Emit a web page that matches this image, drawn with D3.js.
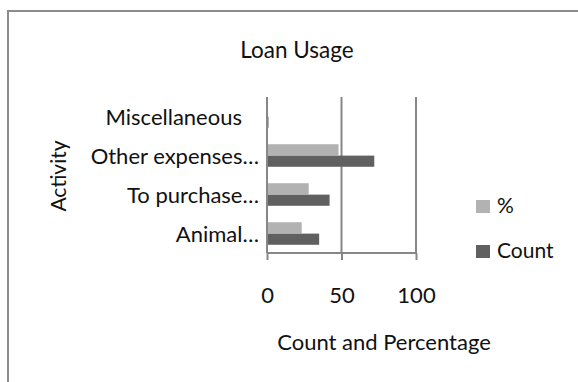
<!DOCTYPE html>
<html>
<head>
<meta charset="utf-8">
<script src="https://cdn.jsdelivr.net/npm/d3@7"></script>
<style>
  html, body { margin: 0; padding: 0; background: #fff; }
  svg { display: block; font-family: Lato, "Open Sans", sans-serif; }
</style>
</head>
<body>
<svg id="chart" width="578" height="382"></svg>
<script>
// Loan usage by activity: count of borrowers and share of the total
const categories = ["Animal…", "To purchase…", "Other expenses…", "Miscellaneous"];
const seriesNames = ["%", "Count"];
const countValues = [35, 42, 72, 1];
const percentValues = [23.3, 28, 48, 0.7];
const xTicks = [0, 50, 100];

const colors = { "%": "#b2b2b2", "Count": "#606060" };
const gridColor = "#878787";

const svg = d3.select("#chart");
const W = 578, H = 382;

// outer chart frame (runs past the right and bottom edges)
svg.append("rect")
  .attr("x", 8).attr("y", 11)
  .attr("width", W + 20).attr("height", H + 20)
  .attr("fill", "#fff").attr("stroke", "#8c8c8c").attr("stroke-width", 2);

const plot = { left: 267, right: 416, top: 97, bottom: 253 };

const x = d3.scaleLinear().domain([0, 100]).range([plot.left, plot.right]);

// categories listed bottom-to-top, so reverse for the band scale
const y = d3.scaleBand()
  .domain(categories.slice().reverse())
  .range([plot.top, plot.bottom])
  .paddingInner(0.41).paddingOuter(0.205);

const ySub = d3.scaleBand().domain(seriesNames).range([0, y.bandwidth()]).padding(0.02);

const rows = categories.map((c, i) => ({ cat: c, "%": percentValues[i], "Count": countValues[i] }));

// vertical gridlines
svg.append("g").selectAll("line").data(xTicks.filter(t => t > 0)).join("line")
  .attr("x1", d => x(d)).attr("x2", d => x(d))
  .attr("y1", plot.top).attr("y2", plot.bottom)
  .attr("stroke", gridColor).attr("stroke-width", 2);

// bars
const groups = svg.append("g").selectAll("g").data(rows).join("g")
  .attr("transform", d => `translate(0,${y(d.cat)})`);
groups.selectAll("rect").data(d => seriesNames.map(s => ({ s, v: d[s] }))).join("rect")
  .attr("x", x(0))
  .attr("y", d => ySub(d.s))
  .attr("width", d => x(d.v) - x(0))
  .attr("height", ySub.bandwidth())
  .attr("fill", d => colors[d.s]);

// category axis line
svg.append("line")
  .attr("x1", x(0)).attr("x2", x(0))
  .attr("y1", plot.top).attr("y2", plot.bottom)
  .attr("stroke", gridColor).attr("stroke-width", 2);

// value axis
const xAxis = svg.append("g").attr("transform", `translate(0,${plot.bottom})`)
  .call(d3.axisBottom(x).tickValues(xTicks).tickSize(7).tickPadding(27).tickFormat(d3.format("d")));
xAxis.select(".domain").attr("stroke", gridColor).attr("stroke-width", 2).attr("d", `M${x(0)},0H${x(100)}`);
xAxis.selectAll(".tick line").attr("stroke", gridColor).attr("stroke-width", 2);
xAxis.selectAll(".tick text").attr("font-family", "Lato, sans-serif").attr("font-size", 22).attr("fill", "#111");

// category labels (truncated ones sit closer to the axis)
svg.append("g").selectAll("text").data(categories).join("text")
  .attr("x", d => d.endsWith("…") ? 259 : 242)
  .attr("y", d => y(d) + y.bandwidth() / 2 + 8)
  .attr("text-anchor", "end")
  .attr("font-size", 22).attr("fill", "#111")
  .text(d => d);

// title
svg.append("text").attr("x", 297).attr("y", 58).attr("text-anchor", "middle")
  .attr("font-size", 22.5).attr("fill", "#111").text("Loan Usage");

// axis titles
svg.append("text").attr("transform", "translate(66,176) rotate(-90)").attr("text-anchor", "middle")
  .attr("font-size", 21).attr("fill", "#111").text("Activity");
svg.append("text").attr("x", 384).attr("y", 350).attr("text-anchor", "middle")
  .attr("font-size", 22).attr("fill", "#111").text("Count and Percentage");

// legend
const legend = svg.append("g").selectAll("g").data(seriesNames).join("g")
  .attr("transform", (d, i) => `translate(476,${200 + i * 45})`);
legend.append("rect").attr("width", 14).attr("height", 13).attr("fill", d => colors[d]);
legend.append("text").attr("x", 21).attr("y", 13).attr("font-size", 21).attr("fill", "#111").text(d => d);
</script>
</body>
</html>
